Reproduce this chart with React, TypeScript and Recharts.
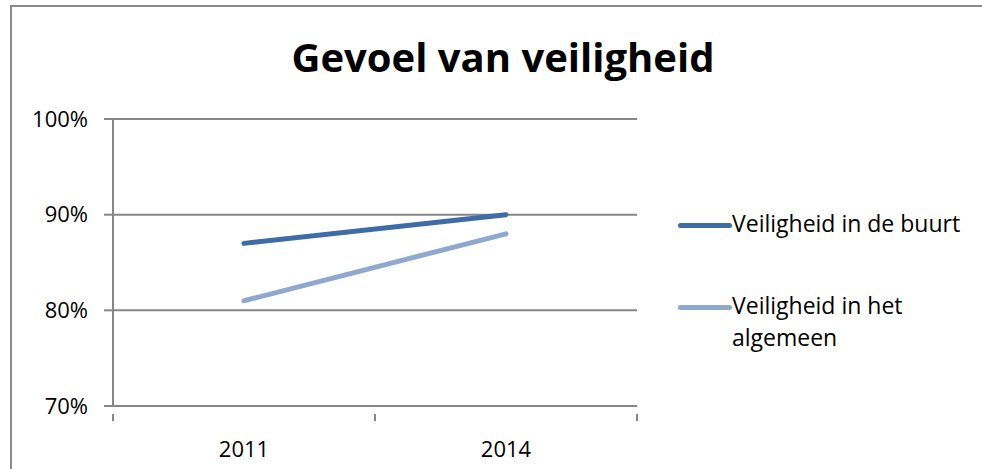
import React from 'react';
import { Line, LineChart, XAxis, YAxis, CartesianGrid } from 'recharts';

const title = 'Gevoel van veiligheid';
const years = ['2011', '2014'];
const buurt = [0.87, 0.9];
const algemeen = [0.81, 0.88];
const yTicks = [0.7, 0.8, 0.9, 1.0];

const seriesInfo = [
  { key: 'buurt', name: 'Veiligheid in de buurt', color: '#3f6ca6' },
  { key: 'algemeen', name: 'Veiligheid in het algemeen', color: '#8ea8d0' },
];

// x sits in the middle of each category band, edges are the integer ticks
const data = years.map((year, i) => ({
  x: i + 0.5,
  year,
  buurt: buurt[i],
  algemeen: algemeen[i],
}));

const xTicks: number[] = [];
for (let i = 0; i <= years.length * 2; i++) xTicks.push(i / 2);

const FONT = '"Open Sans", "Noto Sans", sans-serif';
const AXIS = '#868686';

function XTick(props: any) {
  const { x, y, payload } = props;
  const v = payload.value as number;
  if (Number.isInteger(v)) {
    return <line x1={x} x2={x} y1={y} y2={y + 7} stroke={AXIS} strokeWidth={2} />;
  }
  const label = years[Math.floor(v)];
  return (
    <text x={x} y={y + 43} textAnchor="middle" fontFamily={FONT} fontSize={22} fill="#000">
      {label}
    </text>
  );
}

function LegendBox() {
  return (
    <div style={{ fontFamily: FONT, fontSize: 23, color: '#000' }}>
      {seriesInfo.map((s, i) => (
        <div
          key={s.key}
          style={{ display: 'flex', alignItems: 'flex-start', marginBottom: i === 0 ? 54 : 0 }}
        >
          <div
            style={{
              width: 54,
              height: 5,
              borderRadius: 3,
              background: s.color,
              marginTop: 12,
              flex: 'none',
            }}
          />
          <div style={{ width: 245, lineHeight: '32px', marginTop: -4 }}>{s.name}</div>
        </div>
      ))}
    </div>
  );
}

export default function App() {
  return (
    <div
      style={{
        position: 'absolute',
        left: 0,
        top: 0,
        width: 982,
        height: 469,
        overflow: 'hidden',
        background: '#fff',
      }}
    >
      <div
        style={{
          position: 'absolute',
          left: 10,
          top: 5,
          width: 1000,
          height: 500,
          border: '2px solid #8a8a8a',
        }}
      />
      <div
        style={{
          position: 'absolute',
          left: 0,
          width: 1006,
          top: 30,
          textAlign: 'center',
          fontFamily: FONT,
          fontWeight: 'bold',
          fontSize: 40,
          lineHeight: '54px',
          color: '#000',
        }}
      >
        {title}
      </div>
      <div style={{ position: 'absolute', left: 0, top: 0 }}>
        <LineChart width={982} height={469} data={data} margin={{ top: 119, right: 345, left: 0, bottom: 0 }}>
          <CartesianGrid horizontal vertical={false} stroke={AXIS} strokeWidth={2} />
          <XAxis
            dataKey="x"
            type="number"
            domain={[0, years.length]}
            ticks={xTicks}
            interval={0}
            height={63}
            tickLine={false}
            axisLine={{ stroke: AXIS, strokeWidth: 2 }}
            tick={<XTick />}
          />
          <YAxis
            domain={[0.7, 1]}
            ticks={yTicks}
            width={113}
            tickSize={9}
            tickMargin={16}
            tickLine={{ stroke: AXIS, strokeWidth: 2 }}
            axisLine={{ stroke: AXIS, strokeWidth: 2 }}
            tickFormatter={(v: number) => `${Math.round(v * 100)}%`}
            tick={{ fill: '#000', fontSize: 22, fontFamily: FONT }}
          />
          {seriesInfo.map((s) => (
            <Line
              key={s.key}
              dataKey={s.key}
              name={s.name}
              stroke={s.color}
              strokeWidth={5}
              strokeLinecap="round"
              dot={false}
              activeDot={false}
              isAnimationActive={false}
            />
          ))}
        </LineChart>
      </div>
      <div style={{ position: 'absolute', left: 678, top: 211 }}>
        <LegendBox />
      </div>
    </div>
  );
}
